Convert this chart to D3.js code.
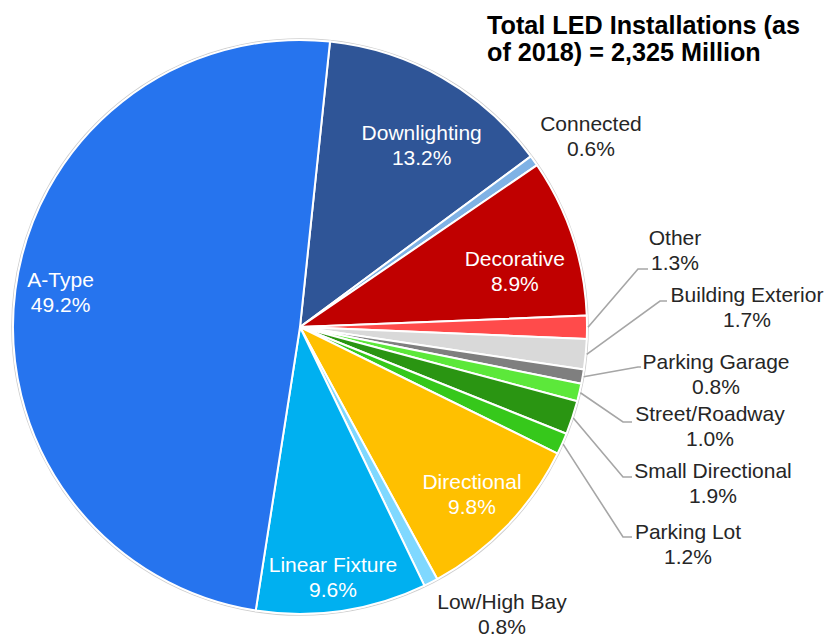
<!DOCTYPE html>
<html><head><meta charset="utf-8">
<script src="https://cdn.jsdelivr.net/npm/d3@7"></script>
<style>html,body{margin:0;padding:0;background:#fff;}svg{display:block;}</style>
</head><body>
<svg id="chart" width="830" height="639"></svg>
<script>
// ---- data ----
const categories = ["Downlighting","Connected","Decorative","Other","Building Exterior","Parking Garage","Street/Roadway","Small Directional","Parking Lot","Directional","Low/High Bay","Linear Fixture","A-Type"];
const shares = [13.2,0.6,8.9,1.3,1.7,0.8,1.0,1.9,1.2,9.8,0.8,9.6,49.2];
const titleLines = ["Total LED Installations (as","of 2018) = 2,325 Million"];

// ---- styles / layout ----
const colors = ["#2F5597","#7FB2E5","#C00000","#FF4B4B","#D9D9D9","#7F7F7F","#5CE83A","#2A9512","#36C81B","#FFC000","#7FD8FF","#00B0F0","#2674EE"];
const cx = 300, cy = 327, R = 287;
const startDeg = 6;
// inside labels: [radius, angle offset deg]
const insideLayout = {
  "A-Type":[242,0.9], "Downlighting":[219,4], "Decorative":[222,3.7],
  "Directional":[240,0.4], "Linear Fixture":[252,0.9]
};
// outside labels: first-line centre (relative to pie centre) and leader elbow
const outsideLayout = {
  "Connected":{x:291,y:-203},
  "Low/High Bay":{x:202,y:275},
  "Other":{x:375,y:-89, elbow:[338,-58], end:[348,-58]},
  "Building Exterior":{x:447,y:-32, elbow:[360,-26], end:[367,-26]},
  "Parking Garage":{x:416,y:35, elbow:[338,40], end:[341,40]},
  "Street/Roadway":{x:410,y:87, elbow:[323,95], end:[332,95]},
  "Small Directional":{x:413,y:144, elbow:[323,150], end:[332,150]},
  "Parking Lot":{x:388,y:205, elbow:[323,210], end:[332,210]}
};
const lineH = 25;
const fontFam = "'Liberation Sans', Arial, sans-serif";

const svg = d3.select("#chart");
const g = svg.append("g").attr("transform", `translate(${cx},${cy})`);

const rows = categories.map((c,i)=>({name:c, value:shares[i], color:colors[i]}));
const pie = d3.pie().sort(null).value(d=>d.value)
  .startAngle(startDeg*Math.PI/180).endAngle(startDeg*Math.PI/180 + 2*Math.PI);
const arcs = pie(rows);
const arc = d3.arc().innerRadius(0).outerRadius(R);

// outer faint ring
g.append("circle").attr("r", R+1.2).attr("fill","none").attr("stroke","#cfcfcf").attr("stroke-width",1.2);

g.selectAll("path.slice").data(arcs).join("path")
  .attr("class","slice")
  .attr("d", arc)
  .attr("fill", d=>d.data.color)
  .attr("stroke","#fff").attr("stroke-width",2).attr("stroke-linejoin","round");

const fmt = v => d3.format(".1f")(v) + "%";
const polar = (r, a) => [r*Math.sin(a), -r*Math.cos(a)];

// inside labels
arcs.filter(d=>insideLayout[d.data.name]).forEach(d=>{
  const [r, off] = insideLayout[d.data.name];
  const mid = (d.startAngle+d.endAngle)/2 + off*Math.PI/180;
  const [x,y] = polar(r, mid);
  const t = g.append("text").attr("text-anchor","middle").attr("fill","#fff")
    .style("font-family", fontFam).style("font-size","21px");
  t.append("tspan").attr("x",x).attr("y",y - lineH/2).attr("dy","0.35em").text(d.data.name);
  t.append("tspan").attr("x",x).attr("y",y + lineH/2).attr("dy","0.35em").text(fmt(d.data.value));
});

// outside labels + leaders
arcs.filter(d=>outsideLayout[d.data.name]).forEach(d=>{
  const L = outsideLayout[d.data.name];
  const mid = (d.startAngle+d.endAngle)/2;
  if (L.elbow) {
    const p0 = polar(R+1, mid);
    g.append("polyline")
      .attr("points", [p0, L.elbow, L.end].map(p=>p.join(",")).join(" "))
      .attr("fill","none").attr("stroke","#A6A6A6").attr("stroke-width",1.6);
  }
  const t = g.append("text").attr("text-anchor","middle").attr("fill","#262626")
    .style("font-family", fontFam).style("font-size","21px");
  t.append("tspan").attr("x",L.x).attr("y",L.y).attr("dy","0.35em").text(d.data.name);
  t.append("tspan").attr("x",L.x).attr("y",L.y + lineH).attr("dy","0.35em").text(fmt(d.data.value));
});

// title
const title = svg.append("text").attr("fill","#000")
  .style("font-family", fontFam).style("font-size","25.2px").style("font-weight","bold");
titleLines.forEach((s,i)=>{
  title.append("tspan").attr("x",487).attr("y",25 + i*27).attr("dy","0.35em").text(s);
});
</script>
</body></html>
